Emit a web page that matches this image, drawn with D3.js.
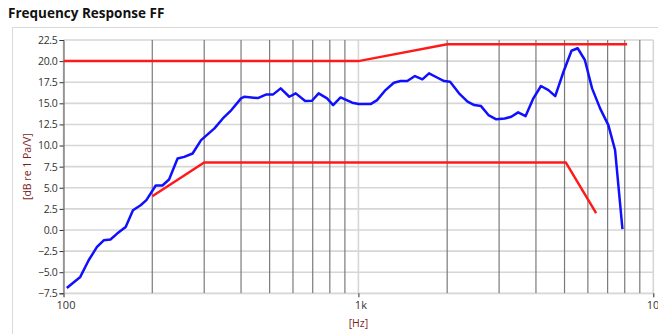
<!DOCTYPE html>
<html><head><meta charset="utf-8">
<script src="https://cdn.jsdelivr.net/npm/d3@7"></script>
<style>
body{margin:0;background:#fff;}
svg{display:block;}
text{font-family:"Open Sans","Noto Sans",sans-serif;}
</style></head>
<body><svg id="c" width="658" height="334"></svg>
<script>
const title = "Frequency Response FF";
const yLabel = "[dB re 1 Pa/V]";
const xLabel = "[Hz]";
const yTicks = [22.5,20,17.5,15,12.5,10,7.5,5,2.5,0,-2.5,-5,-7.5];
const xTickValues = [100,1000,10000];
const xTickLabels = ["100","1k","10k"];
const minorFreqs = [200,300,400,500,600,700,800,900,2000,3000,4000,5000,6000,7000,8000,9000];

const upperFreq = [100,1000,2000,8150];
const upperVal  = [20,20,22,22];
const lowerFreq = [200,300,5050,6400];
const lowerVal  = [4,8,8,2];

const respFreq = [102.6,114,121.7,129.9,136.9,144.3,152,162.5,172,182.6,191,205.5,216.5,228,243.7,256.7,274,292.8,325,347,371,400,411,456,488,514,545,583,613,660,696,733,783,821,870,953,1003,1100,1157,1236,1319,1390,1465,1555,1648,1736,1855,1953,2046,2194,2345,2470,2605,2760,2935,3135,3300,3480,3690,3920,4160,4410,4650,4960,5280,5540,5860,6200,6600,7040,7420,7860];
const respVal  = [-6.87,-5.56,-3.59,-2.01,-1.22,-1.13,-0.43,0.36,2.34,2.93,3.53,5.27,5.27,5.98,8.47,8.66,9.06,10.64,12.03,13.21,14.2,15.59,15.78,15.62,16.06,16.06,16.77,15.78,16.18,15.27,15.3,16.18,15.59,14.79,15.7,15.07,14.91,14.91,15.38,16.57,17.44,17.64,17.64,18.23,17.84,18.55,18.03,17.64,17.56,16.18,15.19,14.79,14.67,13.61,13.1,13.21,13.41,13.93,13.49,15.59,17.05,16.57,15.86,18.74,21.23,21.52,20.13,16.77,14.4,12.42,9.46,0.09];

const svg = d3.select("#c");
const L = 63.5, R = 653.3, T = 40, B = 293.3;
const x = d3.scaleLog().domain([100,10000]).range([L,R]);
const y = d3.scaleLinear().domain([-7.5,22.5]).range([B,T]);

// panel border
svg.append("path").attr("d","M12.5,334 V27.5 H658").attr("fill","none").attr("stroke","#d9d9d9").attr("stroke-width",1);

svg.append("text").attr("x",8).attr("y",18).attr("font-size",13.5).attr("font-weight","bold").attr("fill","#111").text(title);

// horizontal grid
svg.append("g").selectAll("line").data(yTicks).join("line")
  .attr("x1",L).attr("x2",R).attr("y1",d=>y(d)).attr("y2",d=>y(d))
  .attr("stroke","#d6d6d6").attr("stroke-width",1.6);
// vertical major grid
svg.append("g").selectAll("line").data(xTickValues).join("line")
  .attr("x1",d=>x(d)).attr("x2",d=>x(d)).attr("y1",T).attr("y2",B)
  .attr("stroke","#d6d6d6").attr("stroke-width",1.6);
// vertical minor grid
svg.append("g").selectAll("line").data(minorFreqs).join("line")
  .attr("x1",d=>x(d)).attr("x2",d=>x(d)).attr("y1",T).attr("y2",B)
  .attr("stroke","#7a7a7a").attr("stroke-width",1.2);

// axes
const yAxis = d3.axisLeft(y).tickValues(yTicks).tickFormat(d3.format(".1f")).tickSize(4).tickPadding(2);
const gy = svg.append("g").attr("transform",`translate(${L},0)`).call(yAxis);
gy.select(".domain").attr("stroke","#555");
gy.selectAll(".tick line").attr("stroke","#333");
gy.selectAll("text").attr("font-size",10.5).attr("fill","#333").attr("font-family","'Open Sans',sans-serif").attr("letter-spacing","-0.3");

const xAxis = d3.axisBottom(x).tickValues(xTickValues).tickFormat((d,i)=>xTickLabels[i]).tickSize(4).tickPadding(4);
const gx = svg.append("g").attr("transform",`translate(0,${B})`).call(xAxis);
gx.select(".domain").attr("stroke","#d6d6d6");
gx.selectAll(".tick line").attr("stroke","#333");
gx.selectAll("text").attr("font-size",11).attr("fill","#333").attr("font-family","'Open Sans',sans-serif").attr("dx",2);

svg.append("text").attr("transform",`translate(31,${(T+B)/2}) rotate(-90)`).attr("text-anchor","middle")
  .attr("font-size",10.5).attr("fill","#7a1f1f").text(yLabel);
svg.append("text").attr("x",x(1000)).attr("y",327).attr("text-anchor","middle")
  .attr("font-size",10.5).attr("fill","#7a1f1f").text(xLabel);

const line = d3.line().x(d=>x(d[0])).y(d=>y(d[1]));
const clip = svg.append("defs").append("clipPath").attr("id","cp").append("rect").attr("x",L).attr("y",T-3).attr("width",R-L).attr("height",B-T+3);
const plot = svg.append("g").attr("clip-path","url(#cp)");
plot.append("path").attr("d",line(d3.zip(upperFreq,upperVal))).attr("fill","none").attr("stroke","#ff1a1a").attr("stroke-width",2.5);
plot.append("path").attr("d",line(d3.zip(lowerFreq,lowerVal))).attr("fill","none").attr("stroke","#ff1a1a").attr("stroke-width",2.5);
plot.append("path").attr("d",line(d3.zip(respFreq,respVal))).attr("fill","none").attr("stroke","#1010ff").attr("stroke-width",2.5).attr("stroke-linejoin","round");
</script></body></html>
